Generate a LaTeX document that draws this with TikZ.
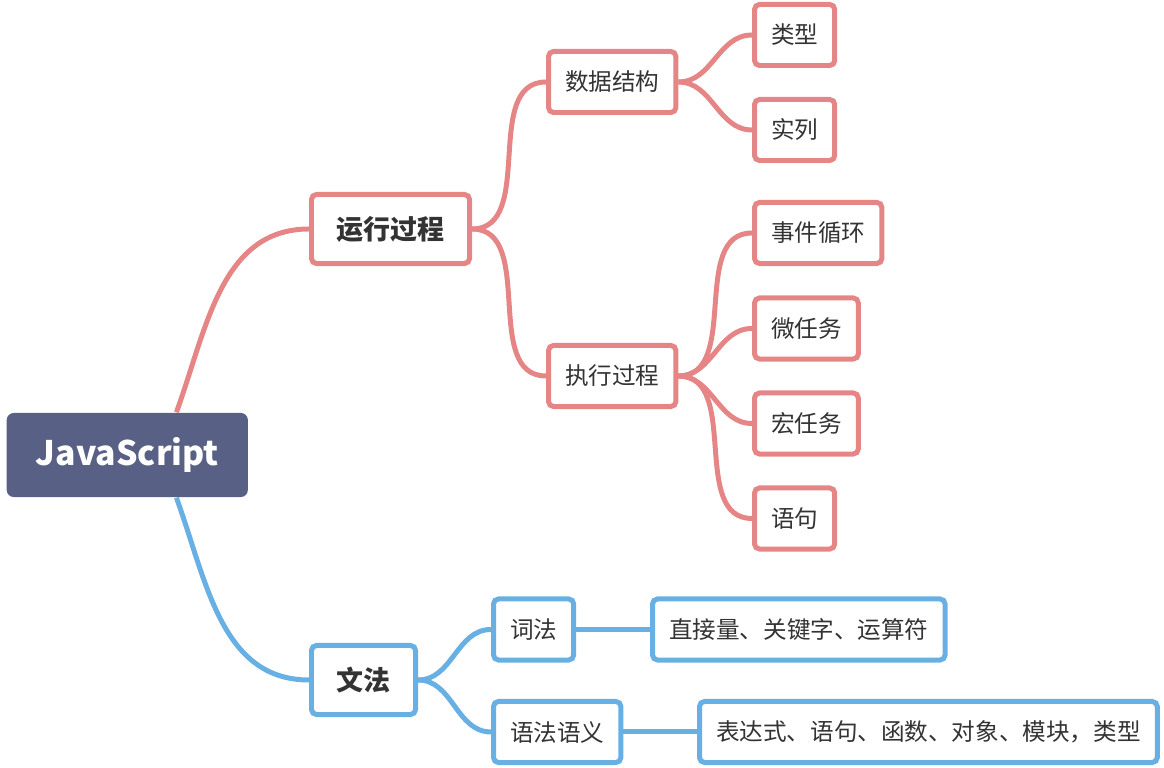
\documentclass[tikz,border=0pt]{standalone}
\usepackage{fontspec}
\setmainfont{Noto Sans CJK SC}
\definecolor{jsroot}{HTML}{596085}
\definecolor{jsred}{HTML}{E68585}
\definecolor{jsblue}{HTML}{68B0E4}
\definecolor{jstext}{HTML}{333333}
\begin{document}
\begin{tikzpicture}[x=0.01cm,y=0.01cm,
  rootbox/.style={fill=jsroot,text=white,rounded corners=0.07cm,minimum width=2.41cm,minimum height=0.84cm,inner sep=0pt,font=\bfseries\fontsize{9.6}{11}\selectfont,anchor=west},
  mainbox/.style={draw,fill=white,line width=1.42pt,rounded corners=0.05cm,inner xsep=0.25cm,inner ysep=0pt,minimum height=0.69cm,text=jstext,font=\bfseries\fontsize{7.68}{9}\selectfont,anchor=west},
  subbox/.style={draw,fill=white,line width=1.42pt,rounded corners=0.05cm,inner xsep=0.165cm,inner ysep=0pt,minimum height=0.61cm,text=jstext,font=\fontsize{6.71}{8}\selectfont,anchor=west},
  redlink/.style={draw=jsred,line width=1.42pt},
  bluelink/.style={draw=jsblue,line width=1.42pt}]
\useasboundingbox (0,0) rectangle (1164,-768);
\node[rootbox] (js) at (6,-455) {JavaScript};
\node[mainbox,draw=jsred] (yxgc) at (309,-229) {运行过程};
\node[mainbox,draw=jsblue] (wf) at (309,-680) {文法};
\node[subbox,draw=jsred] (sjjg) at (546,-82) {数据结构};
\node[subbox,draw=jsred] (zxgc) at (546,-376) {执行过程};
\node[subbox,draw=jsred] (lx) at (752,-35) {类型};
\node[subbox,draw=jsred] (sl) at (752,-130) {实列};
\node[subbox,draw=jsred] (sjxh) at (752,-233) {事件循环};
\node[subbox,draw=jsred] (wrw) at (752,-328.5) {微任务};
\node[subbox,draw=jsred] (hrw) at (752,-423.5) {宏任务};
\node[subbox,draw=jsred] (yj) at (752,-518.5) {语句};
\node[subbox,draw=jsblue] (cf) at (491,-629.5) {词法};
\node[subbox,draw=jsblue] (yfyy) at (491,-732) {语法语义};
\node[subbox,draw=jsblue] (cfnr) at (650,-629.5) {直接量、关键字、运算符};
\node[subbox,draw=jsblue] (yfnr) at (697,-732) {表达式、语句、函数、对象、模块，类型};
\path [redlink] (js.41) edge[out=70,in=180] (yxgc.west);
\path [bluelink] (js.-41) edge[out=-70,in=180] (wf.west);
\path [redlink] (yxgc.east) edge[out=0,in=180] (sjjg.west);
\path [redlink] (yxgc.east) edge[out=0,in=180] (zxgc.west);
\path [redlink] (sjjg.east) edge[out=0,in=180] (lx.west);
\path [redlink] (sjjg.east) edge[out=0,in=180] (sl.west);
\path [redlink] (zxgc.east) edge[out=0,in=180] (sjxh.west);
\path [redlink] (zxgc.east) edge[out=0,in=180] (wrw.west);
\path [redlink] (zxgc.east) edge[out=0,in=180] (hrw.west);
\path [redlink] (zxgc.east) edge[out=0,in=180] (yj.west);
\path [bluelink] (wf.east) edge[out=0,in=180] (cf.west);
\path [bluelink] (wf.east) edge[out=0,in=180] (yfyy.west);
\path [bluelink] (cf) edge (cfnr);
\path [bluelink] (yfyy) edge (yfnr);
\end{tikzpicture}
\end{document}
